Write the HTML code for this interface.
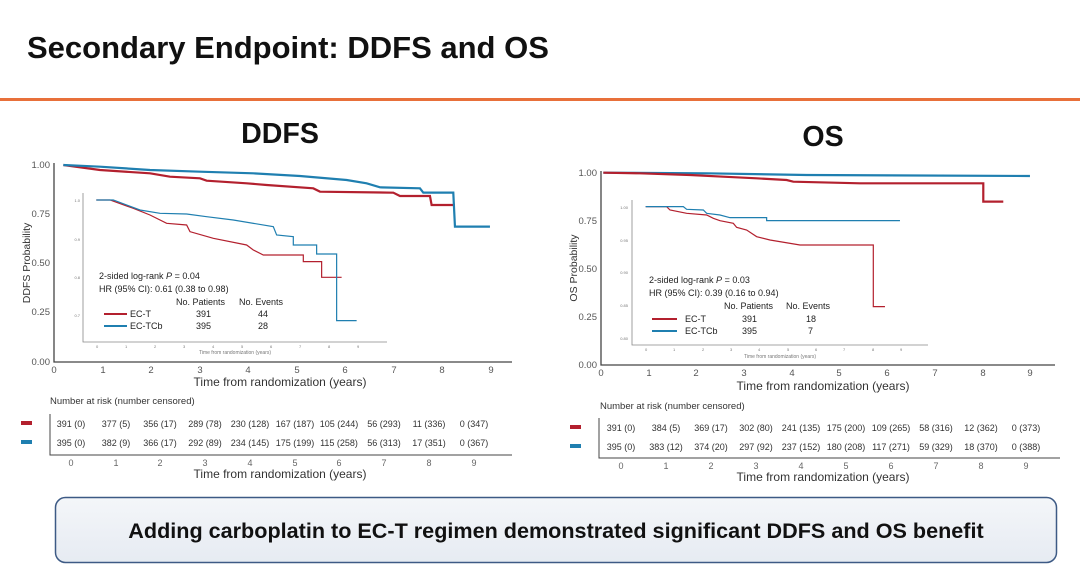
<!DOCTYPE html>
<html><head><meta charset="utf-8"><style>
body{margin:0;width:1080px;height:572px;background:#fff;overflow:hidden;font-family:"Liberation Sans",Arial,sans-serif}
svg{position:absolute;left:0;top:0}
</style></head><body>
<svg width="1080" height="572" viewBox="0 0 1080 572" font-family="Liberation Sans, Arial, sans-serif">
<defs><linearGradient id="g" x1="0" y1="0" x2="0" y2="1"><stop offset="0" stop-color="#f4f6f9"/><stop offset="1" stop-color="#e6ebf2"/></linearGradient></defs>
<text x="27" y="58" font-size="31" font-weight="bold" fill="#111">Secondary Endpoint: DDFS and OS</text>
<rect x="0" y="98" width="1080" height="3" fill="#e8703a"/>
<text x="280" y="143" font-size="28.6" font-weight="bold" text-anchor="middle" fill="#111">DDFS</text>
<text x="823" y="146" font-size="28.6" font-weight="bold" text-anchor="middle" fill="#111">OS</text>

<!-- LEFT MAIN -->
<g fill="#555" font-size="9.5">
<path d="M54 163V362H512" stroke="#444" stroke-width="1.3" fill="none"/>
<text x="50" y="168" text-anchor="end">1.00</text><text x="50" y="217" text-anchor="end">0.75</text><text x="50" y="266" text-anchor="end">0.50</text><text x="50" y="315" text-anchor="end">0.25</text><text x="50" y="365" text-anchor="end">0.00</text>
<text x="54" y="373" text-anchor="middle">0</text><text x="103" y="373" text-anchor="middle">1</text><text x="151" y="373" text-anchor="middle">2</text><text x="200" y="373" text-anchor="middle">3</text><text x="248" y="373" text-anchor="middle">4</text><text x="297" y="373" text-anchor="middle">5</text><text x="345" y="373" text-anchor="middle">6</text><text x="394" y="373" text-anchor="middle">7</text><text x="442" y="373" text-anchor="middle">8</text><text x="491" y="373" text-anchor="middle">9</text>
</g>
<text x="280" y="386" font-size="12" text-anchor="middle" fill="#333">Time from randomization (years)</text>
<text transform="translate(30,263) rotate(-90)" font-size="10.5" text-anchor="middle" fill="#333">DDFS Probability</text>
<g transform="translate(0,150) scale(0.3333)" fill="none" stroke-width="2.2">
<polyline vector-effect="non-scaling-stroke" stroke="#b3202e" points="190,45 300,60 450,70 510,80 600,85 620,92 740,100 800,105 940,115 960,125 1180,128 1200,138 1290,138 1295,165 1365,165"/>
<polyline vector-effect="non-scaling-stroke" stroke="#1f7fb0" points="190,45 300,50 450,60 600,65 760,70 900,78 1040,90 1100,100 1140,112 1260,115 1270,128 1360,128 1365,230 1470,230"/>
<polyline vector-effect="non-scaling-stroke" stroke="#b3202e" stroke-width="1.2" points="289,150 330,150 400,175 450,195 500,220 560,225 570,245 640,265 740,285 760,300 790,315 910,315 910,335 965,335 965,382 1025,382"/>
<polyline vector-effect="non-scaling-stroke" stroke="#1f7fb0" stroke-width="1.2" points="289,150 340,150 420,180 480,190 560,192 620,200 700,210 820,230 830,255 880,260 880,285 950,285 950,312 1010,312 1010,512 1070,512"/>
</g>
<path d="M83 193V342H387" stroke="#888" stroke-width="0.8" fill="none"/>
<g font-size="4" fill="#777"><text x="80" y="202" text-anchor="end">1.0</text><text x="80" y="241" text-anchor="end">0.9</text><text x="80" y="279" text-anchor="end">0.8</text><text x="80" y="317" text-anchor="end">0.7</text>
<text x="96" y="348">0</text><text x="125" y="348">1</text><text x="154" y="348">2</text><text x="183" y="348">3</text><text x="212" y="348">4</text><text x="241" y="348">5</text><text x="270" y="348">6</text><text x="299" y="348">7</text><text x="328" y="348">8</text><text x="357" y="348">9</text>
<text x="235" y="354" text-anchor="middle" font-size="5">Time from randomization (years)</text></g>
<g font-size="9" fill="#222">
<text x="99" y="279">2-sided log-rank <tspan font-style="italic">P</tspan> = 0.04</text>
<text x="99" y="292">HR (95% CI): 0.61 (0.38 to 0.98)</text>
<text x="176" y="305">No. Patients</text><text x="239" y="305">No. Events</text>
<text x="130" y="317">EC-T</text><text x="196" y="317">391</text><text x="258" y="317">44</text>
<text x="130" y="329">EC-TCb</text><text x="196" y="329">395</text><text x="258" y="329">28</text>
</g>
<line x1="104" y1="314" x2="127" y2="314" stroke="#b3202e" stroke-width="2"/>
<line x1="104" y1="326" x2="127" y2="326" stroke="#1f7fb0" stroke-width="2"/>

<!-- RIGHT MAIN -->
<g fill="#555" font-size="9.5">
<path d="M601 171V365H1055" stroke="#444" stroke-width="1.3" fill="none"/>
<text x="597" y="176" text-anchor="end">1.00</text><text x="597" y="224" text-anchor="end">0.75</text><text x="597" y="272" text-anchor="end">0.50</text><text x="597" y="320" text-anchor="end">0.25</text><text x="597" y="368" text-anchor="end">0.00</text>
<text x="601" y="376" text-anchor="middle">0</text><text x="649" y="376" text-anchor="middle">1</text><text x="696" y="376" text-anchor="middle">2</text><text x="744" y="376" text-anchor="middle">3</text><text x="792" y="376" text-anchor="middle">4</text><text x="839" y="376" text-anchor="middle">5</text><text x="887" y="376" text-anchor="middle">6</text><text x="935" y="376" text-anchor="middle">7</text><text x="983" y="376" text-anchor="middle">8</text><text x="1030" y="376" text-anchor="middle">9</text>
</g>
<text x="823" y="390" font-size="12" text-anchor="middle" fill="#333">Time from randomization (years)</text>
<text transform="translate(577,268) rotate(-90)" font-size="10.5" text-anchor="middle" fill="#333">OS Probability</text>
<g transform="translate(540,150) scale(0.3333)" fill="none" stroke-width="2.2">
<polyline vector-effect="non-scaling-stroke" stroke="#1f7fb0" points="190,68 500,70 800,75 1470,78"/>
<polyline vector-effect="non-scaling-stroke" stroke="#b3202e" points="190,68 300,70 450,75 550,80 650,85 740,90 760,95 960,100 1330,100 1330,155 1390,155"/>
<polyline vector-effect="non-scaling-stroke" stroke="#b3202e" stroke-width="1.2" points="317,170 380,170 390,180 440,190 500,195 520,205 540,212 580,220 590,232 620,240 650,260 690,270 780,285 1000,285 1000,470 1035,470"/>
<polyline vector-effect="non-scaling-stroke" stroke="#1f7fb0" stroke-width="1.2" points="317,170 430,170 440,178 490,180 500,190 540,195 570,203 680,203 680,212 1080,212"/>
</g>
<path d="M632 200V345H928" stroke="#888" stroke-width="0.8" fill="none"/>
<g font-size="4" fill="#777"><text x="628" y="209" text-anchor="end">1.00</text><text x="628" y="242" text-anchor="end">0.95</text><text x="628" y="274" text-anchor="end">0.90</text><text x="628" y="307" text-anchor="end">0.85</text><text x="628" y="340" text-anchor="end">0.80</text>
<text x="645" y="351">0</text><text x="673" y="351">1</text><text x="702" y="351">2</text><text x="730" y="351">3</text><text x="758" y="351">4</text><text x="787" y="351">5</text><text x="815" y="351">6</text><text x="843" y="351">7</text><text x="872" y="351">8</text><text x="900" y="351">9</text>
<text x="780" y="358" text-anchor="middle" font-size="5">Time from randomization (years)</text></g>
<g font-size="9" fill="#222">
<text x="649" y="283">2-sided log-rank <tspan font-style="italic">P</tspan> = 0.03</text>
<text x="649" y="296">HR (95% CI): 0.39 (0.16 to 0.94)</text>
<text x="724" y="309">No. Patients</text><text x="786" y="309">No. Events</text>
<text x="685" y="322">EC-T</text><text x="742" y="322">391</text><text x="806" y="322">18</text>
<text x="685" y="334">EC-TCb</text><text x="742" y="334">395</text><text x="808" y="334">7</text>
</g>
<line x1="652" y1="319" x2="677" y2="319" stroke="#b3202e" stroke-width="2"/>
<line x1="652" y1="331" x2="677" y2="331" stroke="#1f7fb0" stroke-width="2"/>

<!-- LEFT RISK TABLE -->
<text x="50" y="404" font-size="9.5" fill="#333">Number at risk (number censored)</text>
<rect x="21" y="421" width="11" height="4" fill="#b3202e"/><rect x="21" y="440" width="11" height="4" fill="#1f7fb0"/>
<path d="M50 414V455H512" stroke="#444" stroke-width="1" fill="none"/>
<g font-size="9" fill="#333" text-anchor="middle">
<text x="71" y="427">391 (0)</text><text x="116" y="427">377 (5)</text><text x="160" y="427">356 (17)</text><text x="205" y="427">289 (78)</text><text x="250" y="427">230 (128)</text><text x="295" y="427">167 (187)</text><text x="339" y="427">105 (244)</text><text x="384" y="427">56 (293)</text><text x="429" y="427">11 (336)</text><text x="474" y="427">0 (347)</text>
<text x="71" y="446">395 (0)</text><text x="116" y="446">382 (9)</text><text x="160" y="446">366 (17)</text><text x="205" y="446">292 (89)</text><text x="250" y="446">234 (145)</text><text x="295" y="446">175 (199)</text><text x="339" y="446">115 (258)</text><text x="384" y="446">56 (313)</text><text x="429" y="446">17 (351)</text><text x="474" y="446">0 (367)</text>
<g fill="#666"><text x="71" y="466">0</text><text x="116" y="466">1</text><text x="160" y="466">2</text><text x="205" y="466">3</text><text x="250" y="466">4</text><text x="295" y="466">5</text><text x="339" y="466">6</text><text x="384" y="466">7</text><text x="429" y="466">8</text><text x="474" y="466">9</text></g>
</g>
<text x="280" y="478" font-size="12" text-anchor="middle" fill="#333">Time from randomization (years)</text>

<!-- RIGHT RISK TABLE -->
<text x="600" y="409" font-size="9.5" fill="#333">Number at risk (number censored)</text>
<rect x="570" y="425" width="11" height="4" fill="#b3202e"/><rect x="570" y="444" width="11" height="4" fill="#1f7fb0"/>
<path d="M599 418V458H1060" stroke="#444" stroke-width="1" fill="none"/>
<g font-size="9" fill="#333" text-anchor="middle">
<text x="621" y="431">391 (0)</text><text x="666" y="431">384 (5)</text><text x="711" y="431">369 (17)</text><text x="756" y="431">302 (80)</text><text x="801" y="431">241 (135)</text><text x="846" y="431">175 (200)</text><text x="891" y="431">109 (265)</text><text x="936" y="431">58 (316)</text><text x="981" y="431">12 (362)</text><text x="1026" y="431">0 (373)</text>
<text x="621" y="450">395 (0)</text><text x="666" y="450">383 (12)</text><text x="711" y="450">374 (20)</text><text x="756" y="450">297 (92)</text><text x="801" y="450">237 (152)</text><text x="846" y="450">180 (208)</text><text x="891" y="450">117 (271)</text><text x="936" y="450">59 (329)</text><text x="981" y="450">18 (370)</text><text x="1026" y="450">0 (388)</text>
<g fill="#666"><text x="621" y="469">0</text><text x="666" y="469">1</text><text x="711" y="469">2</text><text x="756" y="469">3</text><text x="801" y="469">4</text><text x="846" y="469">5</text><text x="891" y="469">6</text><text x="936" y="469">7</text><text x="981" y="469">8</text><text x="1026" y="469">9</text></g>
</g>
<text x="823" y="481" font-size="12" text-anchor="middle" fill="#333">Time from randomization (years)</text>

<!-- BOTTOM BOX -->
<rect x="55.5" y="497.5" width="1001" height="65" rx="10" fill="url(#g)" stroke="#3d5a85" stroke-width="1.5"/>
<text x="556" y="538" font-size="21.6" font-weight="bold" text-anchor="middle" fill="#111">Adding carboplatin to EC-T regimen demonstrated significant DDFS and OS benefit</text>
</svg>
</body></html>
